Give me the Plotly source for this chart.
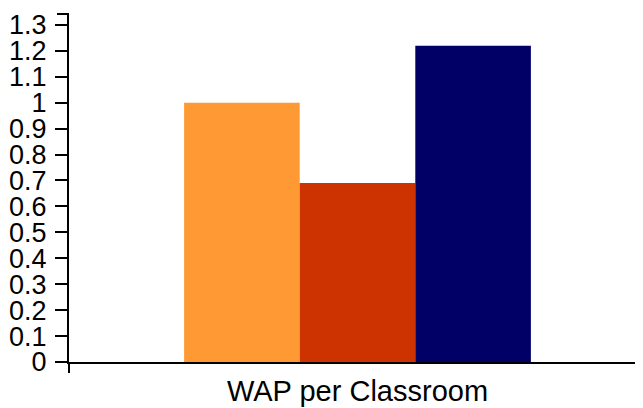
import plotly.graph_objects as go

categories = ["WAP per Classroom"]
series_names = ["Series A", "Series B", "Series C"]
series_values = [[1.0], [0.69], [1.22]]
series_colors = ["#FF9933", "#CC3300", "#000066"]
y_ticks = [0, 0.1, 0.2, 0.3, 0.4, 0.5, 0.6, 0.7, 0.8, 0.9, 1, 1.1, 1.2, 1.3]
y_tick_labels = ["0", "0.1", "0.2", "0.3", "0.4", "0.5", "0.6", "0.7", "0.8", "0.9", "1", "1.1", "1.2", "1.3"]

fig = go.Figure()
for name, vals, col in zip(series_names, series_values, series_colors):
    fig.add_trace(go.Bar(x=categories, y=vals, name=name, marker=dict(color=col, line=dict(width=0))))

W, H = 643, 408
ml, mr, mt, mb = 61, 5, 6, 54
plot_w = W - ml - mr
plot_h = H - mt - mb
fig.update_layout(
    width=W, height=H,
    margin=dict(l=ml, r=mr, t=mt, b=mb, autoexpand=False),
    barmode="group", bargap=0.399, bargroupgap=0,
    showlegend=False,
    plot_bgcolor="white", paper_bgcolor="white",
    font=dict(family="Liberation Sans, Arial, sans-serif", size=28, color="black"),
    xaxis=dict(showline=True, linecolor="black", linewidth=2, ticks="", showgrid=False,
               ticklabelstandoff=2, tickfont=dict(size=29)),
    yaxis=dict(range=[0, 1.342], tickvals=y_ticks, ticktext=y_tick_labels,
               showline=True, linecolor="black", linewidth=2, ticks="outside",
               ticklen=12, tickwidth=2, tickcolor="black", showgrid=False, zeroline=False,
               ticklabelstandoff=3, tickfont=dict(size=27)),
    shapes=[
        dict(type="line", xref="paper", yref="paper", x0=-12/plot_w, x1=0, y0=1, y1=1,
             line=dict(color="black", width=2)),
        dict(type="line", xref="paper", yref="paper", x0=0, x1=0, y0=0, y1=-11/plot_h,
             line=dict(color="black", width=2)),
    ],
)
fig.write_html("out.html")
